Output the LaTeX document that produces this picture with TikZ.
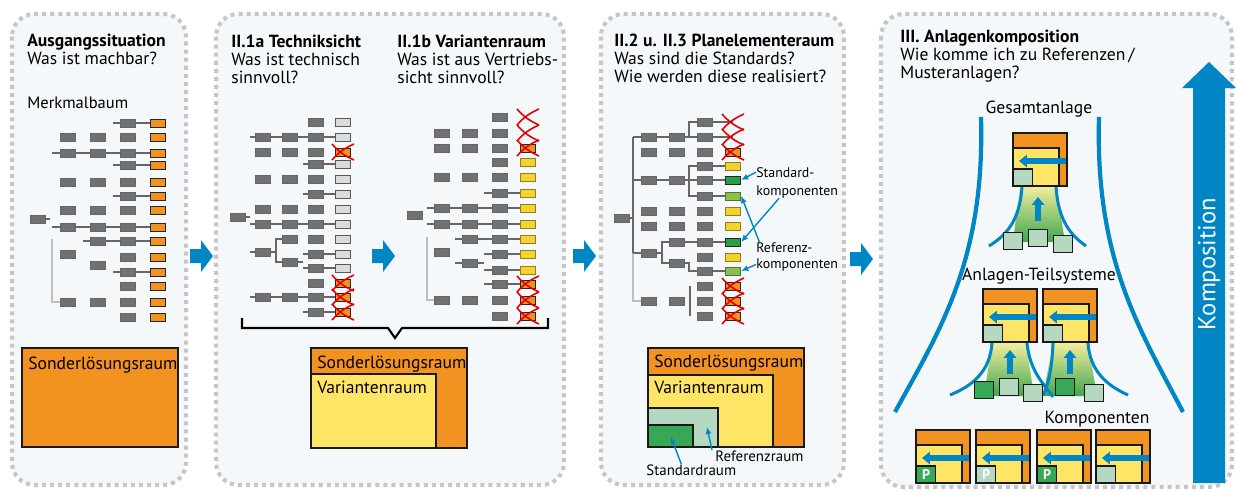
\documentclass[tikz,border=0pt]{standalone}
\usepackage{fontspec}
\setmainfont{PT Sans}
\usetikzlibrary{arrows.meta}
\definecolor{kblue}{HTML}{0086C4}
\definecolor{korange}{HTML}{F29220}
\definecolor{kyellow}{HTML}{FFE566}
\definecolor{kpale}{HTML}{B5D9C0}
\definecolor{kgreen}{HTML}{38A857}
\definecolor{yellowleaf}{HTML}{F5D22C}
\definecolor{lightleaf}{HTML}{8DBF4E}
\definecolor{darkleaf}{HTML}{27A046}
\definecolor{boxgray}{HTML}{717171}
\definecolor{panelbg}{HTML}{F5F8FA}
\definecolor{panelline}{HTML}{C6C6C6}
\definecolor{gradtop}{HTML}{F2EE9E}
\definecolor{gradbot}{HTML}{3FA64E}
\tikzset{
  panel/.style={fill=panelbg, draw=panelline, line width=2.3pt, dash pattern=on 2.3pt off 2.3pt, rounded corners=0.45cm},
  gbox/.style={rectangle, fill=boxgray, draw=black!60, line width=0.5pt, minimum width=0.31cm, minimum height=0.16cm, inner sep=0pt},
  lfor/.style={gbox, fill=korange, draw=black!85},
  lfgy/.style={gbox, fill=black!14, draw=black!65},
  lfye/.style={gbox, fill=yellowleaf, draw=yellowleaf!60!black},
  lfdg/.style={gbox, fill=darkleaf, draw=black!85},
  lflg/.style={gbox, fill=lightleaf, draw=lightleaf!60!black},
  lfno/.style={gbox, fill=none, draw=none},
  tline/.style={draw=black!60, line width=0.8pt},
  tlight/.style={draw=black!25, line width=0.8pt},
  xmark/.style={draw=red!90!black, line width=0.9pt},
  head/.style={anchor=base west, inner sep=0pt, font=\fontsize{10}{12}\selectfont\bfseries},
  sub/.style={anchor=base west, inner sep=0pt, font=\fontsize{10}{12}\selectfont},
  lbl/.style={anchor=base west, inner sep=0pt, font=\fontsize{7.9}{10}\selectfont},
  frame/.style={draw=black!90, line width=0.8pt},
  carrow/.style={draw=kblue, line width=0.8pt, -{Latex[length=4pt,width=3.5pt]}},
  karrow/.style={draw=kblue, line width=3pt, -{Triangle[length=4.5pt,width=7pt]}},
  flare/.style={draw=kblue, line width=1.7pt},
  bigflare/.style={draw=kblue, line width=2.4pt},
  sq/.style={draw=black!90, line width=0.8pt, inner sep=0pt, minimum width=0.38cm, minimum height=0.33cm, text=white, font=\fontsize{8}{8}\selectfont\bfseries},
  sqpale/.style={sq, fill=kpale},
  sqgreen/.style={sq, fill=kgreen}
}
\newcommand\xcross[2]{\draw[xmark] (#1-11,#2-8) to[bend right=12] (#1+11,#2+8) (#1-11,#2+8) to[bend left=12] (#1+11,#2-8);}
\newcommand\blockarrow[2]{\fill[kblue] (#1,#2-7) -- ++(11,0) -- ++(0,-9) -- ++(12,16) -- ++(-12,16) -- ++(0,-9) -- ++(-11,0) -- cycle;}
% x, y (top left), square style, square text, name
\newcommand\kbox[5]{%
  \filldraw[frame, fill=korange] (#1,#2) rectangle ++(54,53);
  \filldraw[frame, fill=kyellow] (#1,#2+15) rectangle (#1+46,#2+53);
  \node[#3, anchor=south west] (#5) at (#1,#2+53) {#4};
  \draw[karrow] (#1+53,#2+28) -- (#1+6,#2+28);}

\begin{document}
\begin{tikzpicture}[x=0.02cm, y=-0.02cm]
  \useasboundingbox (0,0) rectangle (1237,491);
  % panels
  \draw[panel] (12,14) rectangle (186,485);
  \draw[panel] (216,14) rectangle (564,485);
  \draw[panel] (601,14) rectangle (844,485);
  \draw[panel] (881,14) rectangle (1232,487);
  \blockarrow{190}{256}
  \blockarrow{372}{256}
  \blockarrow{573}{256}
  \blockarrow{850}{259}

  % headings
  \node[head] (h1) at (27,46) {Ausgangssituation};
  \node[sub] (h1q) at (27,64) {Was ist machbar?};
  \node[sub, font=\fontsize{9.4}{11}\selectfont] (mb) at (27,108) {Merkmalbaum};
  \node[head] (h2a) at (231,47) {II.1a Techniksicht};
  \node[sub] (h2aq) at (231,65) {Was ist technisch};
  \node[sub] (h2aq2) at (231,83) {sinnvoll?};
  \node[head] (h2b) at (397,47) {II.1b Variantenraum};
  \node[sub] (h2bq) at (397,65) {Was ist aus Vertriebs-};
  \node[sub] (h2bq2) at (397,83) {sicht sinnvoll?};
  \node[head] (h3) at (614,46) {II.2 u. II.3 Planelementeraum};
  \node[sub] (h3q) at (614,64) {Was sind die Standards?};
  \node[sub] (h3q2) at (614,82) {Wie werden diese realisiert?};
  \node[head] (h4) at (900,42) {III. Anlagenkomposition};
  \node[sub] (h4q) at (900,60) {Wie komme ich zu Referenzen\,/};
  \node[sub] (h4q2) at (900,78) {Musteranlagen?};

  % tree: Merkmalbaum
  \draw[tline] (38,219) -- (50,219);
  \foreach \y/\a in {123/113,153/52,165/113,196/113,227/52,241/83,272/113}
    \draw[tline] (\a,\y) -- (158,\y);
  \draw[tlight] (52,239) -- (52,302) -- (68,302);
  \node[gbox] (mr) at (38,219) {};
  \foreach \y/\cs [count=\i] in {123/{128},137/{68,98,128},153/{68,98,128},165/{128},182/{68,98,128},196/{128},210/{68,98,128},227/{68,98,128},241/{98,128},254/{68},257/{128},265/{98},272/{128},286/{128},302/{68,98,128},317/{128}}
    \foreach \x [count=\j] in \cs \node[gbox] (m\i-\j) at (\x,\y) {};
  \foreach \y [count=\i] in {123,137,153,165,182,196,210,227,241,257,272,286,302,317}
    \node[lfor] (ml\i) at (158,\y) {};

  % tree: Techniksicht
  \draw[tline] (238,217) -- (250,217);
  \foreach \y/\a in {137/250,164/303,194/303,224/250,254/303,268/303,297/250,312/303}
    \draw[tline] (\a,\y) -- (343,\y);
  \draw[tline] (250,252) -- (276,252);
  \draw[tline] (290,239) -| (276,262) -- (303,262);
  \node[gbox] (tr) at (238,217) {};
  \foreach \y/\cs [count=\i] in {122/{316},137/{263,290,316},152/{263,290,316},164/{316},179/{263,290,316},194/{316},209/{263,290,316},224/{263,290,316},239/{290,316},252/{263},254/{316},262/{290},268/{316},283/{316},297/{263,290,316},312/{316}}
    \foreach \x [count=\j] in \cs \node[gbox] (t\i-\j) at (\x,\y) {};
  \foreach \y/\s [count=\i] in {122/lfgy,137/lfgy,152/lfor,164/lfgy,179/lfgy,194/lfgy,209/lfgy,224/lfgy,239/lfgy,254/lfgy,268/lfgy,283/lfor,297/lfor,312/lfor}
    \node[\s] (tl\i) at (343,\y) {};
  \foreach \y in {152,283,297,312} {\xcross{343}{\y}}

  % tree: Variantenraum
  \foreach \y/\a in {193/484,208/427,224/427,239/455,254/484,270/484,284/484}
    \draw[tline] (\a,\y) -- (528,\y);
  \draw[tline] (455,263) -- (484,263);
  \draw[tlight] (427,237) -- (427,300) -- (442,300);
  \node[gbox] (vr) at (415,215) {};
  \foreach \y/\cs [count=\i] in {117/{500},133/{442,470,500},148/{442,470,500},162/{500},177/{442,470,500},193/{500},208/{442,470,500},224/{442,470,500},239/{470,500},252/{442},254/{500},263/{470},270/{500},284/{500},300/{442,470,500},316/{500}}
    \foreach \x [count=\j] in \cs \node[gbox] (v\i-\j) at (\x,\y) {};
  \foreach \y/\s [count=\i] in {117/lfno,133/lfno,148/lfor,162/lfye,177/lfye,193/lfye,208/lfye,224/lfye,239/lfye,254/lfye,270/lfye,284/lfor,300/lfor,316/lfor}
    \node[\s] (vl\i) at (528,\y) {};
  \foreach \y in {117,133,148,284,300,316} {\xcross{528}{\y}}

  % bracket under II.1
  \draw[line width=1.2pt] (242,318) -- (242,328) -- (388,328) -- (395,338) -- (402,328) -- (548,328) -- (548,318);

  % tree: Planelementeraum
  \draw[tline] (622,218) -- (633,218);
  \draw[tline] (633,137) -- (633,253);
  \draw[tlight] (633,253) -- (633,301) -- (649,301);
  \draw[tline] (633,137) -- (733,137);
  \draw[tline] (689,137) |- (733,122);
  \draw[tline] (633,180) -- (733,180);
  \draw[tline] (733,166) -| (689,196) -- (733,196);
  \draw[tline] (633,253) -- (662,253);
  \draw[tline] (733,242) -| (662,263) -- (689,263) |- (733,271);
  \draw[tline] (690,286) -- (690,316);
  \node[gbox] (pr) at (622,218) {};
  \foreach \y/\cs [count=\i] in {122/{705},137/{649,677,705},152/{649,677,705},166/{705},180/{649,677,705},196/{705},211/{649,677,705},226/{649,677,705},242/{677,705},253/{649},257/{705},263/{677},271/{705},286/{705},301/{649,677,705},316/{705}}
    \foreach \x [count=\j] in \cs \node[gbox] (p\i-\j) at (\x,\y) {};
  \foreach \y/\s [count=\i] in {122/lfno,137/lfno,152/lfor,166/lfye,180/lfdg,196/lflg,211/lfye,226/lfye,242/lfdg,257/lfye,271/lflg,286/lfor,301/lfor,316/lfor}
    \node[\s] (c\i) at (733,\y) {};
  \foreach \y in {122,137,152,286,301,316} {\xcross{733}{\y}}
  \node[lbl] (std1) at (756,177) {Standard-};
  \node[lbl] (std2) at (756,195) {komponenten};
  \node[lbl] (ref1) at (756,252) {Referenz-};
  \node[lbl] (ref2) at (756,268) {komponenten};
  \draw[carrow] (std1.west) -- (c5.east);
  \draw[carrow] ([xshift=-0.36cm]std2.south) -- (c9.east);
  \draw[carrow] ([xshift=-0.5cm]ref1.north) -- (c6.east);
  \draw[carrow] (ref2.west) -- (c11.east);

  % solution spaces
  \filldraw[frame, fill=korange] (22,348) rectangle (178,447);
  \node[sub] (sl1) at (28,369) {Sonderlösungsraum};
  \filldraw[frame, fill=korange] (311,348) rectangle (467,448);
  \filldraw[frame, fill=kyellow] (311,374) rectangle (436,448);
  \node[sub] (sl2) at (317,368) {Sonderlösungsraum};
  \node[sub] (vr2) at (317,393) {Variantenraum};
  \filldraw[frame, fill=korange] (648,348) rectangle (804,447);
  \filldraw[frame, fill=kyellow] (648,375) rectangle (773,447);
  \filldraw[frame, fill=kpale] (648,408) rectangle (718,447);
  \filldraw[frame, fill=kgreen] (648,425) rectangle (693,447);
  \node[sub] (sl3) at (654,367) {Sonderlösungsraum};
  \node[sub] (vr3) at (654,393) {Variantenraum};
  \node[lbl, font=\fontsize{8.5}{10}\selectfont] (refr) at (715,461) {Referenzraum};
  \node[lbl, font=\fontsize{8.5}{10}\selectfont] (stdr) at (646,475) {Standardraum};
  \coordinate (inref) at (707,427);
  \coordinate (instd) at (671,437);
  \draw[carrow] ([xshift=-0.06cm]refr.north west) -- (inref);
  \draw[carrow] ([xshift=-0.2cm]stdr.north) -- (instd);

  % composition
  \draw[bigflare] (981,117) .. controls (985,260) and (940,330) .. (895,412);
  \draw[bigflare] (1099,117) .. controls (1095,260) and (1140,330) .. (1183,412);
  \node[sub, anchor=base] (ga) at (1039,113) {Gesamtanlage};
  \node[sub, anchor=base] (ts) at (1039,280) {Anlagen-Teilsysteme};
  \node[sub, anchor=base] (ko) at (1097,423) {Komponenten};

  \shade[top color=gradtop, bottom color=gradbot] (1020,186) -- (1056,186) -- (1065,242) -- (1013,242) -- cycle;
  \draw[flare] (1022,186) .. controls (1020,222) and (1005,236) .. (989,246);
  \draw[flare] (1056,186) .. controls (1058,222) and (1072,236) .. (1086,246);
  \kbox{1013}{133}{sqpale}{}{gsq}
  \draw[karrow] (1038,221) -- (1038,197);
  \node[sqpale, anchor=north west] (g1) at (1003,232) {};
  \node[sqpale, anchor=north west] (g2) at (1028,229) {};
  \node[sqpale, anchor=north west] (g3) at (1053,235) {};

  \shade[top color=gradtop, bottom color=gradbot] (992,343) -- (1026,343) -- (1034,396) -- (984,396) -- cycle;
  \shade[top color=gradtop, bottom color=gradbot] (1053,343) -- (1088,343) -- (1097,396) -- (1043,396) -- cycle;
  \draw[flare] (992,343) .. controls (990,372) and (972,386) .. (950,395);
  \draw[flare] (1027,343) .. controls (1030,372) and (1044,384) .. (1053,397);
  \draw[flare] (1053,343) .. controls (1052,370) and (1048,385) .. (1043,395);
  \draw[flare] (1088,343) .. controls (1090,372) and (1108,386) .. (1128,395);
  \kbox{983}{289}{sqpale}{}{asq}
  \kbox{1043}{289}{sqpale}{}{bsq}
  \draw[karrow] (1010,374) -- (1010,350);
  \draw[karrow] (1070,374) -- (1070,350);
  \node[sqgreen, anchor=north west] (a1) at (974,381) {};
  \node[sqpale, anchor=north west] (a2) at (999,378) {};
  \node[sqpale, anchor=north west] (a3) at (1023,384) {};
  \node[sqgreen, anchor=north west] (b1) at (1055,378) {};
  \node[sqpale, anchor=north west] (b2) at (1084,384) {};

  \kbox{916}{430}{sqgreen}{P}{k1}
  \kbox{976}{430}{sqpale}{P}{k2}
  \kbox{1037}{430}{sqgreen}{P}{k3}
  \kbox{1096}{430}{sqpale}{}{k4}

  % Komposition arrow
  \fill[kblue] (1193,483) -- (1193,88) -- (1182,88) -- (1209,62) -- (1236,88) -- (1225,88) -- (1225,483) -- cycle;
  \node[rotate=90, text=white, font=\fontsize{14}{14}\selectfont] (komp) at (1209,264) {Komposition};
\end{tikzpicture}
\end{document}
